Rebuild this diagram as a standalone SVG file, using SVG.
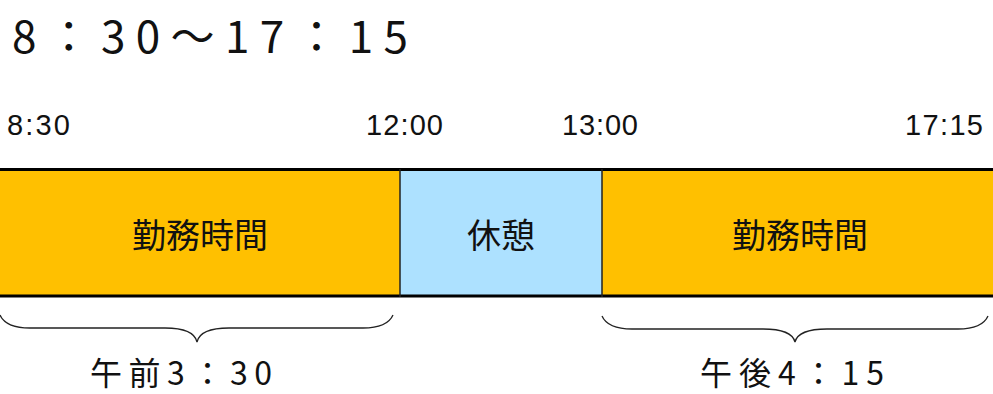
<svg xmlns="http://www.w3.org/2000/svg" width="993" height="394" viewBox="0 0 993 394">
<style>
.t{font-family:"Liberation Sans","Noto Sans CJK JP",sans-serif;font-size:29px;fill:#111}
.j{font-family:"Noto Sans CJK JP","Noto Sans",sans-serif;fill:#111}
.work{fill:#FFC000}
.rest{fill:#ADE1FF}
.edge{stroke:#000;stroke-width:3;fill:none}
.div{stroke:#222;stroke-width:1.5;fill:none}
.brace{stroke:#222;stroke-width:1.3;fill:none}
</style>
<rect width="993" height="394" fill="#fff"/>
<text class="j" x="12" y="53" font-size="44" textLength="396">8：30～17：15</text>
<g id="labels">
<text class="t" x="7" y="135" textLength="63">8:30</text>
<text class="t" x="366" y="135" textLength="77">12:00</text>
<text class="t" x="562" y="135" textLength="76">13:00</text>
<text class="t" x="905" y="135" textLength="78">17:15</text>
</g>
<g id="work-am">
<rect class="work" x="0" y="170" width="400" height="126"/>
<text class="j" x="200" y="248" font-size="34" text-anchor="middle">勤務時間</text>
</g>
<g id="rest">
<rect class="rest" x="400" y="170" width="202" height="126"/>
<text class="j" x="501" y="248" font-size="34" text-anchor="middle">休憩</text>
</g>
<g id="work-pm">
<rect class="work" x="602" y="170" width="391" height="126"/>
<text class="j" x="800" y="248" font-size="34" text-anchor="middle">勤務時間</text>
</g>
<g id="connectors">
<line class="edge" x1="0" y1="169.5" x2="993" y2="169.5"/>
<line class="edge" x1="0" y1="296" x2="993" y2="296"/>
<line class="div" x1="400" y1="169" x2="400" y2="297"/>
<line class="div" x1="602" y1="169" x2="602" y2="297"/>
<path class="brace" d="M0,315 C4,324 14,328 30,328 L165,328 C184,328 195,333 197,342 C199,333 210,328 229,328 L363,328 C379,328 389,324 393,315"/>
<path class="brace" d="M602,316 C606,325 616,329 632,329 L763,329 C782,329 793,334 795,342 C797,334 808,329 827,329 L958,329 C974,329 984,325 988,316"/>
</g>
<g id="durations">
<text class="j" x="90" y="385" font-size="32" textLength="182">午前3：30</text>
<text class="j" x="700" y="385" font-size="32" textLength="184">午後4：15</text>
</g>
</svg>
